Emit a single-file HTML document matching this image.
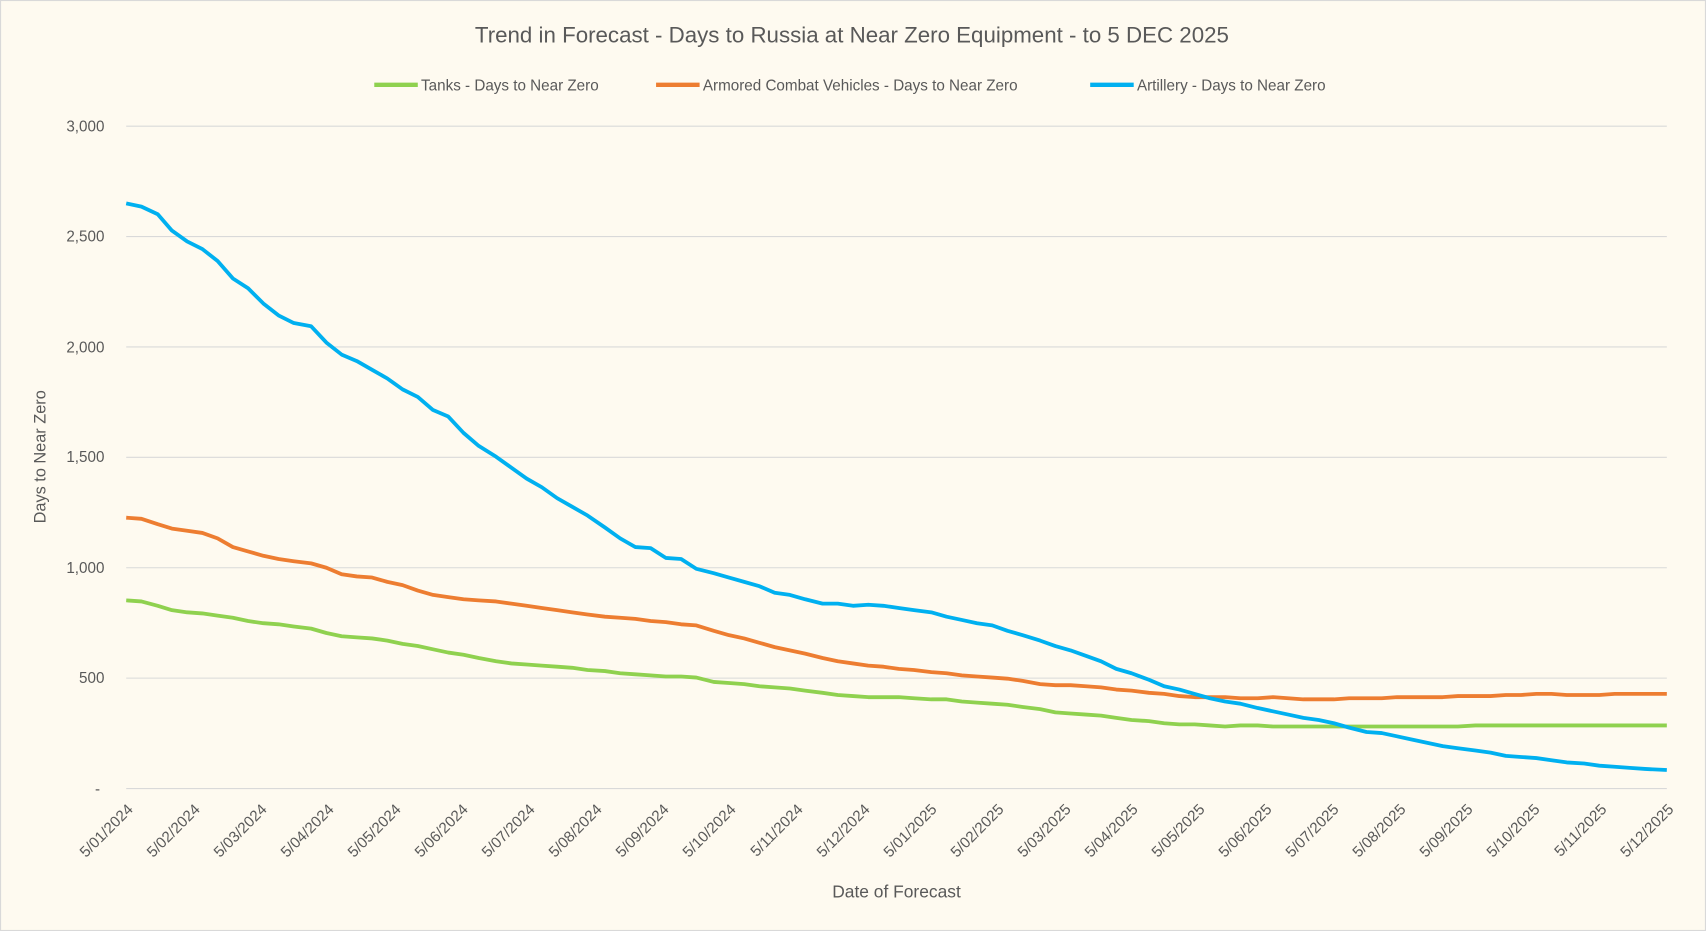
<!DOCTYPE html>
<html><head><meta charset="utf-8"><style>
html,body{margin:0;padding:0;background:#fefaf0;}
svg{display:block;}
text{font-family:"Liberation Sans",sans-serif;fill:#595959;}
</style></head><body>
<svg width="1706" height="931" viewBox="0 0 1568 856" preserveAspectRatio="none" xmlns="http://www.w3.org/2000/svg">
<rect x="0.5" y="0.5" width="1567" height="855" fill="#fefaf0" stroke="#d9d9d9"/>
<text x="783" y="39" font-size="20.5" text-anchor="middle">Trend in Forecast - Days to Russia at Near Zero Equipment - to 5 DEC 2025</text>
<g font-size="14">
<line x1="344" y1="78" x2="384" y2="78" stroke="#8fd14f" stroke-width="4"/><text x="387" y="83">Tanks - Days to Near Zero</text>
<line x1="603" y1="78" x2="643" y2="78" stroke="#ed7d31" stroke-width="4"/><text x="646" y="83">Armored Combat Vehicles - Days to Near Zero</text>
<line x1="1002" y1="78" x2="1042" y2="78" stroke="#00b0f0" stroke-width="4"/><text x="1045" y="83">Artillery - Days to Near Zero</text>
</g>
<g stroke="#d9d9d9" stroke-width="1">
<line x1="116" y1="116" x2="1532" y2="116"/><line x1="116" y1="217.5" x2="1532" y2="217.5"/><line x1="116" y1="319" x2="1532" y2="319"/><line x1="116" y1="420.5" x2="1532" y2="420.5"/><line x1="116" y1="522" x2="1532" y2="522"/><line x1="116" y1="623.5" x2="1532" y2="623.5"/><line x1="116" y1="725" x2="1532" y2="725"/>
</g>
<g font-size="14" text-anchor="end">
<text x="96" y="121">3,000</text><text x="96" y="222">2,500</text><text x="96" y="324">2,000</text><text x="96" y="425">1,500</text><text x="96" y="527">1,000</text><text x="96" y="628">500</text><text x="92" y="730">-</text>
</g>
<text transform="translate(42,420) rotate(-90)" font-size="15" text-anchor="middle">Days to Near Zero</text>
<text x="824" y="825" font-size="16" text-anchor="middle">Date of Forecast</text>
<polyline fill="none" stroke="#8fd14f" stroke-width="3.5" stroke-linejoin="round" points="116,552 130,553 145,557 158,561 172,563 186,564 200,566 214,568 228,571 242,573 256,574 270,576 286,578 300,582 314,585 328,586 342,587 356,589 370,592 384,594 398,597 412,600 426,602 440,605 456,608 470,610 484,611 498,612 512,613 526,614 540,616 556,617 570,619 584,620 598,621 612,622 626,622 640,623 656,627 670,628 684,629 698,631 712,632 726,633 740,635 756,637 770,639 784,640 798,641 812,641 826,641 840,642 856,643 870,643 884,645 898,646 912,647 926,648 940,650 956,652 970,655 984,656 998,657 1012,658 1026,660 1040,662 1056,663 1070,665 1084,666 1098,666 1112,667 1126,668 1140,667 1156,667 1170,668 1184,668 1198,668 1212,668 1226,668 1240,668 1256,668 1270,668 1284,668 1298,668 1312,668 1326,668 1340,668 1356,667 1370,667 1532,667"/>
<polyline fill="none" stroke="#ed7d31" stroke-width="3.5" stroke-linejoin="round" points="116,476 130,477 145,482 158,486 172,488 186,490 200,495 214,503 228,507 242,511 256,514 270,516 286,518 300,522 314,528 328,530 342,531 356,535 370,538 384,543 398,547 412,549 426,551 440,552 456,553 470,555 484,557 498,559 512,561 526,563 540,565 556,567 570,568 584,569 598,571 612,572 626,574 640,575 656,580 670,584 684,587 698,591 712,595 726,598 740,601 756,605 770,608 784,610 798,612 812,613 826,615 840,616 856,618 870,619 884,621 898,622 912,623 926,624 940,626 956,629 970,630 984,630 998,631 1012,632 1026,634 1040,635 1056,637 1070,638 1084,640 1098,641 1112,641 1126,641 1140,642 1156,642 1170,641 1184,642 1198,643 1212,643 1226,643 1240,642 1256,642 1270,642 1284,641 1298,641 1312,641 1326,641 1340,640 1356,640 1370,640 1384,639 1398,639 1412,638 1426,638 1440,639 1456,639 1470,639 1484,638 1498,638 1532,638"/>
<polyline fill="none" stroke="#00b0f0" stroke-width="3.5" stroke-linejoin="round" points="116,187 130,190 145,197 158,212 172,222 186,229 200,240 214,256 228,265 242,279 256,290 270,297 286,300 300,315 314,326 328,332 342,340 356,348 370,358 384,365 398,377 412,383 426,398 440,410 456,420 470,430 484,440 498,448 512,458 526,466 540,474 556,485 570,495 584,503 598,504 612,513 626,514 640,523 656,527 670,531 684,535 698,539 712,545 726,547 740,551 756,555 770,555 784,557 798,556 812,557 826,559 840,561 856,563 870,567 884,570 898,573 912,575 926,580 940,584 956,589 970,594 984,598 998,603 1012,608 1026,615 1040,619 1056,625 1070,631 1084,634 1098,638 1112,642 1126,645 1140,647 1156,651 1170,654 1184,657 1198,660 1212,662 1226,665 1240,669 1256,673 1270,674 1284,677 1298,680 1312,683 1326,686 1340,688 1356,690 1370,692 1384,695 1398,696 1412,697 1426,699 1440,701 1456,702 1470,704 1484,705 1498,706 1512,707 1532,708"/>
<g font-size="14" text-anchor="end">
<text transform="translate(123,745) rotate(-45)">5/01/2024</text>
<text transform="translate(184.6,745) rotate(-45)">5/02/2024</text>
<text transform="translate(246.1,745) rotate(-45)">5/03/2024</text>
<text transform="translate(307.7,745) rotate(-45)">5/04/2024</text>
<text transform="translate(369.3,745) rotate(-45)">5/05/2024</text>
<text transform="translate(430.9,745) rotate(-45)">5/06/2024</text>
<text transform="translate(492.4,745) rotate(-45)">5/07/2024</text>
<text transform="translate(554,745) rotate(-45)">5/08/2024</text>
<text transform="translate(615.6,745) rotate(-45)">5/09/2024</text>
<text transform="translate(677.1,745) rotate(-45)">5/10/2024</text>
<text transform="translate(738.7,745) rotate(-45)">5/11/2024</text>
<text transform="translate(800.3,745) rotate(-45)">5/12/2024</text>
<text transform="translate(861.8,745) rotate(-45)">5/01/2025</text>
<text transform="translate(923.4,745) rotate(-45)">5/02/2025</text>
<text transform="translate(985,745) rotate(-45)">5/03/2025</text>
<text transform="translate(1046.6,745) rotate(-45)">5/04/2025</text>
<text transform="translate(1108.1,745) rotate(-45)">5/05/2025</text>
<text transform="translate(1169.7,745) rotate(-45)">5/06/2025</text>
<text transform="translate(1231.3,745) rotate(-45)">5/07/2025</text>
<text transform="translate(1292.8,745) rotate(-45)">5/08/2025</text>
<text transform="translate(1354.4,745) rotate(-45)">5/09/2025</text>
<text transform="translate(1416,745) rotate(-45)">5/10/2025</text>
<text transform="translate(1477.5,745) rotate(-45)">5/11/2025</text>
<text transform="translate(1539,745) rotate(-45)">5/12/2025</text>
</g>
</svg>
</body></html>
